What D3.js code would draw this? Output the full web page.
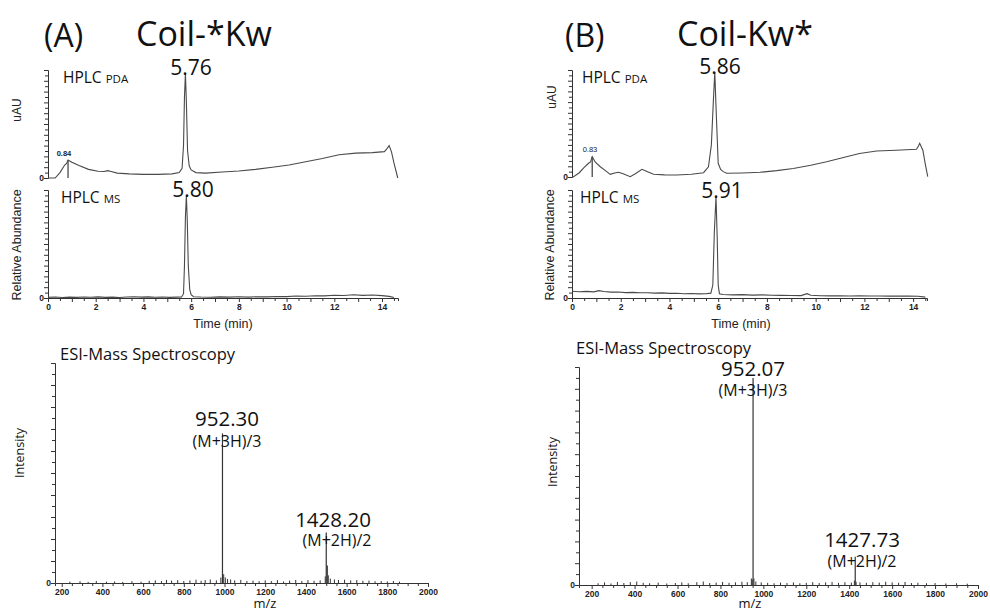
<!DOCTYPE html>
<html><head><meta charset="utf-8">
<script src="https://cdn.jsdelivr.net/npm/d3@7/dist/d3.min.js"></script>
<style>
body{margin:0;background:#fff}
svg{display:block}
.tick text{font-family:"Liberation Sans",Arial,sans-serif;font-weight:bold;font-size:8.5px;fill:#222}
.ann{font-family:"Open Sans","Noto Sans",sans-serif;fill:#111}
.lab{font-family:"Liberation Sans",Arial,sans-serif;fill:#222}
</style>
</head><body>
<svg id="c" width="990" height="613"></svg>
<script>
// ---------------- DATA ----------------
const timeTickLabels = [0, 2, 4, 6, 8, 10, 12, 14];
const mzTickLabels = [200, 400, 600, 800, 1000, 1200, 1400, 1600, 1800, 2000];

// Panel A - HPLC PDA trace (time min, uAU %)
const pdaA_t = [0.05, 0.3, 0.5, 0.7, 0.78, 0.84, 1.0, 1.3, 1.7, 2.1, 2.35, 2.5, 2.65, 2.9, 3.4, 4.0, 4.6, 5.2, 5.5, 5.62, 5.68, 5.72, 5.76, 5.8, 5.85, 5.92, 6.0, 6.2, 6.6, 7.3, 8.0, 8.7, 9.4, 10.1, 10.8, 11.5, 12.2, 12.9, 13.6, 14.1, 14.2, 14.3, 14.4, 14.5, 14.66];
const pdaA_v = [0, 0, 5, 12, 13.5, 16.7, 14.5, 11.5, 8, 6.2, 6, 6.8, 6, 4.5, 3.8, 3.4, 3.4, 3.8, 5, 9, 30, 75, 97, 70, 25, 11, 7.5, 5, 4.5, 5.5, 6.5, 8, 10, 12, 15, 18, 21.5, 23, 23.5, 24.4, 27, 30, 24, 14, 0];
const pdaA_mark = [0.84];

// Panel A - HPLC MS trace (time, relative abundance %)
const msA_t = [0, 0.3, 0.6, 0.9, 1.2, 1.5, 1.8, 2.1, 2.4, 2.7, 3.0, 3.3, 3.6, 3.9, 4.2, 4.5, 4.8, 5.1, 5.4, 5.6, 5.68, 5.72, 5.76, 5.8, 5.84, 5.88, 5.94, 6.0, 6.1, 6.4, 6.8, 7.2, 7.6, 8.0, 8.4, 8.8, 9.2, 9.6, 10.0, 10.4, 10.8, 11.2, 11.6, 12.0, 12.4, 12.8, 13.2, 13.6, 14.0, 14.3, 14.5];
const msA_v = [0.6, 0.9, 0.5, 0.8, 0.6, 0.9, 0.7, 1.0, 0.6, 0.8, 0.5, 0.9, 1.2, 0.8, 1.0, 0.7, 0.9, 0.6, 0.8, 1.0, 4, 30, 75, 95, 70, 30, 8, 3, 1.2, 0.9, 0.7, 1.0, 0.8, 1.1, 0.8, 1.2, 1.0, 1.4, 1.3, 1.8, 1.6, 2.1, 2.0, 2.6, 2.3, 3.0, 2.4, 2.8, 2.2, 1.5, 0.5];

// Panel B - HPLC PDA trace
const pdaB_t = [0.05, 0.3, 0.5, 0.68, 0.76, 0.83, 0.95, 1.16, 1.4, 1.57, 1.75, 1.91, 2.1, 2.39, 2.6, 2.87, 3.1, 3.35, 3.8, 4.3, 4.9, 5.4, 5.6, 5.72, 5.8, 5.86, 5.92, 6.0, 6.1, 6.21, 6.35, 7.0, 7.72, 8.4, 9.08, 9.8, 10.45, 11.1, 11.8, 12.5, 13.3, 14.14, 14.22, 14.27, 14.4, 14.5, 14.6];
const pdaB_v = [0, 4, 9, 12.8, 14, 19, 14, 9.6, 5.5, 2.5, 3.8, 4.4, 3, 0.3, 3, 7.2, 5, 2.5, 2, 1.9, 2.5, 4, 9.6, 30, 70, 98, 60, 12.8, 7, 5, 3.5, 3.8, 4.4, 6, 8, 11, 14.3, 18, 22, 24.3, 25, 25.9, 29, 31.5, 25, 12, 0.3];
const pdaB_mark = [0.83];

// Panel B - HPLC MS trace
const msB_t = [0, 0.3, 0.6, 0.9, 1.1, 1.3, 1.6, 1.9, 2.2, 2.5, 2.8, 3.1, 3.4, 3.7, 4.0, 4.3, 4.6, 4.9, 5.2, 5.5, 5.7, 5.78, 5.84, 5.91, 5.96, 6.0, 6.05, 6.2, 6.6, 7.0, 7.4, 7.8, 8.2, 8.6, 9.0, 9.4, 9.65, 9.8, 10.2, 10.6, 11.0, 11.4, 11.8, 12.2, 12.6, 13.0, 13.4, 13.8, 14.2, 14.5];
const msB_v = [6.2, 5.8, 6.1, 5.7, 6.8, 6.0, 5.4, 5.6, 5.0, 5.2, 4.8, 4.9, 4.5, 4.7, 4.3, 4.4, 4.0, 4.1, 3.8, 3.9, 4.5, 12, 60, 94, 55, 12, 4, 3.2, 2.9, 3.1, 2.7, 2.9, 2.6, 2.4, 2.3, 2.2, 4.0, 2.6, 2.1, 2.0, 2.1, 1.9, 2.0, 1.8, 1.9, 1.7, 1.8, 1.7, 1.6, 0.8];

// Panel A - ESI mass spectrum sticks (m/z, intensity %)
const esiA_mz = [240, 290, 330, 370, 420, 460, 500, 545, 590, 630, 660, 690, 715, 740, 770, 800, 830, 860, 885, 905, 930, 960, 982, 990, 996, 1004, 1015, 1030, 1050, 1080, 1110, 1140, 1170, 1200, 1230, 1260, 1290, 1320, 1350, 1380, 1410, 1440, 1470, 1495, 1500, 1505, 1510, 1520, 1540, 1560, 1590, 1620, 1650, 1680, 1710, 1740, 1770, 1800, 1830, 1860];
const esiA_v  = [0.6, 0.8, 0.5, 0.9, 0.6, 0.7, 0.5, 0.8, 0.6, 1.0, 1.2, 0.9, 1.4, 1.1, 1.3, 0.9, 1.2, 1.5, 1.0, 1.3, 1.6, 1.2, 2.5, 68, 4, 2.5, 1.8, 1.6, 1.2, 1.4, 0.9, 1.1, 0.8, 1.2, 0.9, 1.3, 0.7, 1.1, 1.4, 0.9, 1.3, 1.0, 1.2, 3, 23, 8, 3.5, 2, 1.6, 1.4, 1.5, 1.2, 1.3, 1.0, 1.1, 0.8, 0.9, 0.7, 0.9, 0.6];

// Panel B - ESI mass spectrum sticks
const esiB_mz = [230, 260, 290, 320, 350, 380, 410, 440, 470, 510, 550, 590, 620, 650, 690, 720, 750, 780, 810, 840, 870, 900, 925, 944, 948, 952, 956, 965, 990, 1020, 1050, 1080, 1110, 1140, 1170, 1200, 1230, 1260, 1290, 1320, 1350, 1380, 1410, 1424, 1428, 1432, 1450, 1480, 1510, 1540, 1570, 1600, 1630, 1660, 1690, 1720, 1760, 1800, 1850, 1900, 1950];
const esiB_v  = [0.8, 1.2, 0.7, 1.4, 0.9, 1.3, 1.6, 1.0, 0.8, 1.1, 0.7, 0.9, 1.2, 0.8, 1.3, 1.6, 0.9, 1.1, 1.4, 1.0, 1.2, 1.5, 1.3, 3, 2.5, 95, 3, 1.6, 1.2, 1.0, 0.8, 1.1, 0.9, 1.2, 0.8, 1.0, 1.3, 0.9, 1.2, 1.4, 1.0, 1.3, 1.1, 2, 13, 1.5, 1.2, 1.0, 1.3, 1.1, 1.5, 1.2, 1.0, 1.4, 0.9, 1.0, 0.8, 0.9, 0.7, 0.8, 0.6];

// ---------------- DRAW ----------------
const svg = d3.select("#c");
const traceCol = "#4a4a4a", axisCol = "#333";

function text(x, y, str, size, opts = {}) {
  const t = svg.append("text").attr("x", x).attr("y", y).attr("class", opts.cls || "ann")
    .attr("font-size", size).attr("text-anchor", opts.anchor || "start").text(str);
  if (opts.rot) t.attr("transform", `rotate(-90,${x},${y})`);
  if (opts.weight) t.attr("font-weight", opts.weight);
  return t;
}

function rulerY(g, y, x0, step, major) {
  const vals = d3.range(0, 100.01, step);
  g.append("g").attr("transform", `translate(${x0},0)`)
    .call(d3.axisLeft(y).tickValues(vals).tickSize(3).tickFormat(d => d === 0 ? "0" : ""))
    .call(a => a.select(".domain").attr("stroke", axisCol))
    .call(a => a.selectAll(".tick line").attr("stroke", axisCol).attr("x2", d => (d % major === 0 ? -4 : -3)))
    .call(a => a.selectAll(".tick text").attr("x", -4));
}

function hplc(o) {
  const g = svg.append("g");
  const x = d3.scaleLinear().domain([0, o.tmax]).range([o.x0, o.x1]);
  const yP = d3.scaleLinear().domain([0, 100]).range([o.pdaBase, o.pdaTop]);
  const yM = d3.scaleLinear().domain([0, 100]).range([o.msBase, o.msTop]);
  rulerY(g, yP, o.x0, 5, 10);
  rulerY(g, yM, o.x0, 5, 10);
  const line = (ys) => d3.line().x(d => x(d[0])).y(d => ys(d[1]));
  const pda = o.pdaT.map((t, i) => [t, o.pdaV[i]]);
  g.append("path").datum([[0, 0], ...pda]).attr("d", line(yP)).attr("fill", "none")
    .attr("stroke", traceCol).attr("stroke-width", 1.1);
  o.mark.forEach(m => {
    const v = d3.scaleLinear().domain(o.pdaT).range(o.pdaV)(m);
    g.append("line").attr("x1", x(m)).attr("x2", x(m)).attr("y1", yP(0)).attr("y2", yP(v))
      .attr("stroke", traceCol).attr("stroke-width", 1.3);
  });
  const ms = o.msT.map((t, i) => [t, o.msV[i]]);
  const minor = d3.range(0, o.tmax, 0.5);
  g.append("g").attr("transform", `translate(0,${o.msBase})`)
    .call(d3.axisBottom(x).tickValues(minor).tickSize(3).tickFormat(d => timeTickLabels.includes(d) ? d : ""))
    .call(a => a.select(".domain").attr("stroke", axisCol))
    .call(a => a.selectAll(".tick line").attr("stroke", axisCol).attr("y2", d => (d % 1 === 0 ? 4 : 3)))
    .call(a => a.selectAll(".tick text").attr("y", 6));
  g.append("path").datum(ms).attr("d", line(yM)).attr("fill", "none")
    .attr("stroke", traceCol).attr("stroke-width", 1.1);
  return x;
}

function esi(o) {
  const g = svg.append("g");
  const x = d3.scaleLinear().domain(o.dom).range([o.x0, o.x1]);
  const y = d3.scaleLinear().domain([0, 100]).range([o.base, o.top]);
  rulerY(g, y, o.x0, 5, 10);
  const minor = d3.range(200, o.dom[1] + 1, 50);
  g.append("g").attr("transform", `translate(0,${o.base})`)
    .call(d3.axisBottom(x).tickValues(minor).tickSize(3).tickFormat(d => mzTickLabels.includes(d) ? d : ""))
    .call(a => a.select(".domain").attr("stroke", axisCol))
    .call(a => a.selectAll(".tick line").attr("stroke", axisCol).attr("y2", d => (d % 200 === 0 ? 4 : 3)))
    .call(a => a.selectAll(".tick text").attr("y", 6));
  g.selectAll(".stick").data(o.mz.map((m, i) => [m, o.v[i]])).join("line")
    .attr("x1", d => x(d[0])).attr("x2", d => x(d[0]))
    .attr("y1", y(0)).attr("y2", d => y(d[1]))
    .attr("stroke", "#333").attr("stroke-width", d => d[1] > 5 ? 1.2 : 1);
}

// Panel A
hplc({x0: 48, x1: 398, tmax: 14.67, pdaBase: 178, pdaTop: 70, msBase: 298, msTop: 190,
  pdaT: pdaA_t, pdaV: pdaA_v, mark: pdaA_mark, msT: msA_t, msV: msA_v});
// Panel B
hplc({x0: 572, x1: 927, tmax: 14.57, pdaBase: 177, pdaTop: 70, msBase: 298, msTop: 190,
  pdaT: pdaB_t, pdaV: pdaB_v, mark: pdaB_mark, msT: msB_t, msV: msB_v});

esi({x0: 55, x1: 428, dom: [167, 2000], base: 583, top: 363, mz: esiA_mz, v: esiA_v});
esi({x0: 579, x1: 978, dom: [141, 2000], base: 585, top: 367, mz: esiB_mz, v: esiB_v});

// ---------------- TEXT ----------------
text(44, 47, "(A)", 32);
text(136, 46, "Coil-*Kw", 34);
text(565, 47, "(B)", 32);
text(677, 46, "Coil-Kw*", 34);

function hplcLabel(x, y, sub) {
  const t = svg.append("text").attr("x", x).attr("y", y).attr("class", "ann").attr("font-size", 15.5);
  t.append("tspan").text("HPLC ");
  t.append("tspan").attr("font-size", 11.5).text(sub);
}
hplcLabel(63, 83, "PDA");
hplcLabel(61, 203, "MS");
hplcLabel(582, 83, "PDA");
hplcLabel(580, 203, "MS");

text(191, 75, "5.76", 21, {anchor: "middle"});
text(193, 197, "5.80", 21, {anchor: "middle"});
text(720, 74, "5.86", 21, {anchor: "middle"});
text(722, 198, "5.91", 21, {anchor: "middle"});
text(64, 156, "0.84", 7.5, {anchor: "middle", cls: "lab", weight: "bold"});
text(590, 152, "0.83", 7.5, {anchor: "middle", cls: "lab"});

text(21, 110, "uAU", 12, {anchor: "middle", rot: true, cls: "lab"});
text(21, 245, "Relative Abundance", 12.5, {anchor: "middle", rot: true, cls: "lab"});
text(556, 97, "uAU", 12, {anchor: "middle", rot: true, cls: "lab"});
text(554, 245, "Relative Abundance", 12.5, {anchor: "middle", rot: true, cls: "lab"});
text(223, 328, "Time (min)", 12.5, {anchor: "middle", cls: "lab"});
text(741, 328, "Time (min)", 12.5, {anchor: "middle", cls: "lab"});

text(60, 360, "ESI-Mass Spectroscopy", 16.5);
text(576, 354, "ESI-Mass Spectroscopy", 16.5);
text(24, 453, "Intensity", 12.5, {anchor: "middle", rot: true});
text(557, 462, "Intensity", 12.5, {anchor: "middle", rot: true});
text(265, 608, "m/z", 13, {anchor: "middle"});
text(750, 608, "m/z", 13, {anchor: "middle"});

text(227, 426, "952.30", 20.5, {anchor: "middle"});
text(227, 447, "(M+3H)/3", 16, {anchor: "middle"});
text(333, 527, "1428.20", 20.5, {anchor: "middle"});
text(337, 546, "(M+2H)/2", 16, {anchor: "middle"});
text(753, 376, "952.07", 20.5, {anchor: "middle"});
text(753, 396, "(M+3H)/3", 16, {anchor: "middle"});
text(862, 547, "1427.73", 20.5, {anchor: "middle"});
text(862, 567, "(M+2H)/2", 16, {anchor: "middle"});
</script>
</body></html>
